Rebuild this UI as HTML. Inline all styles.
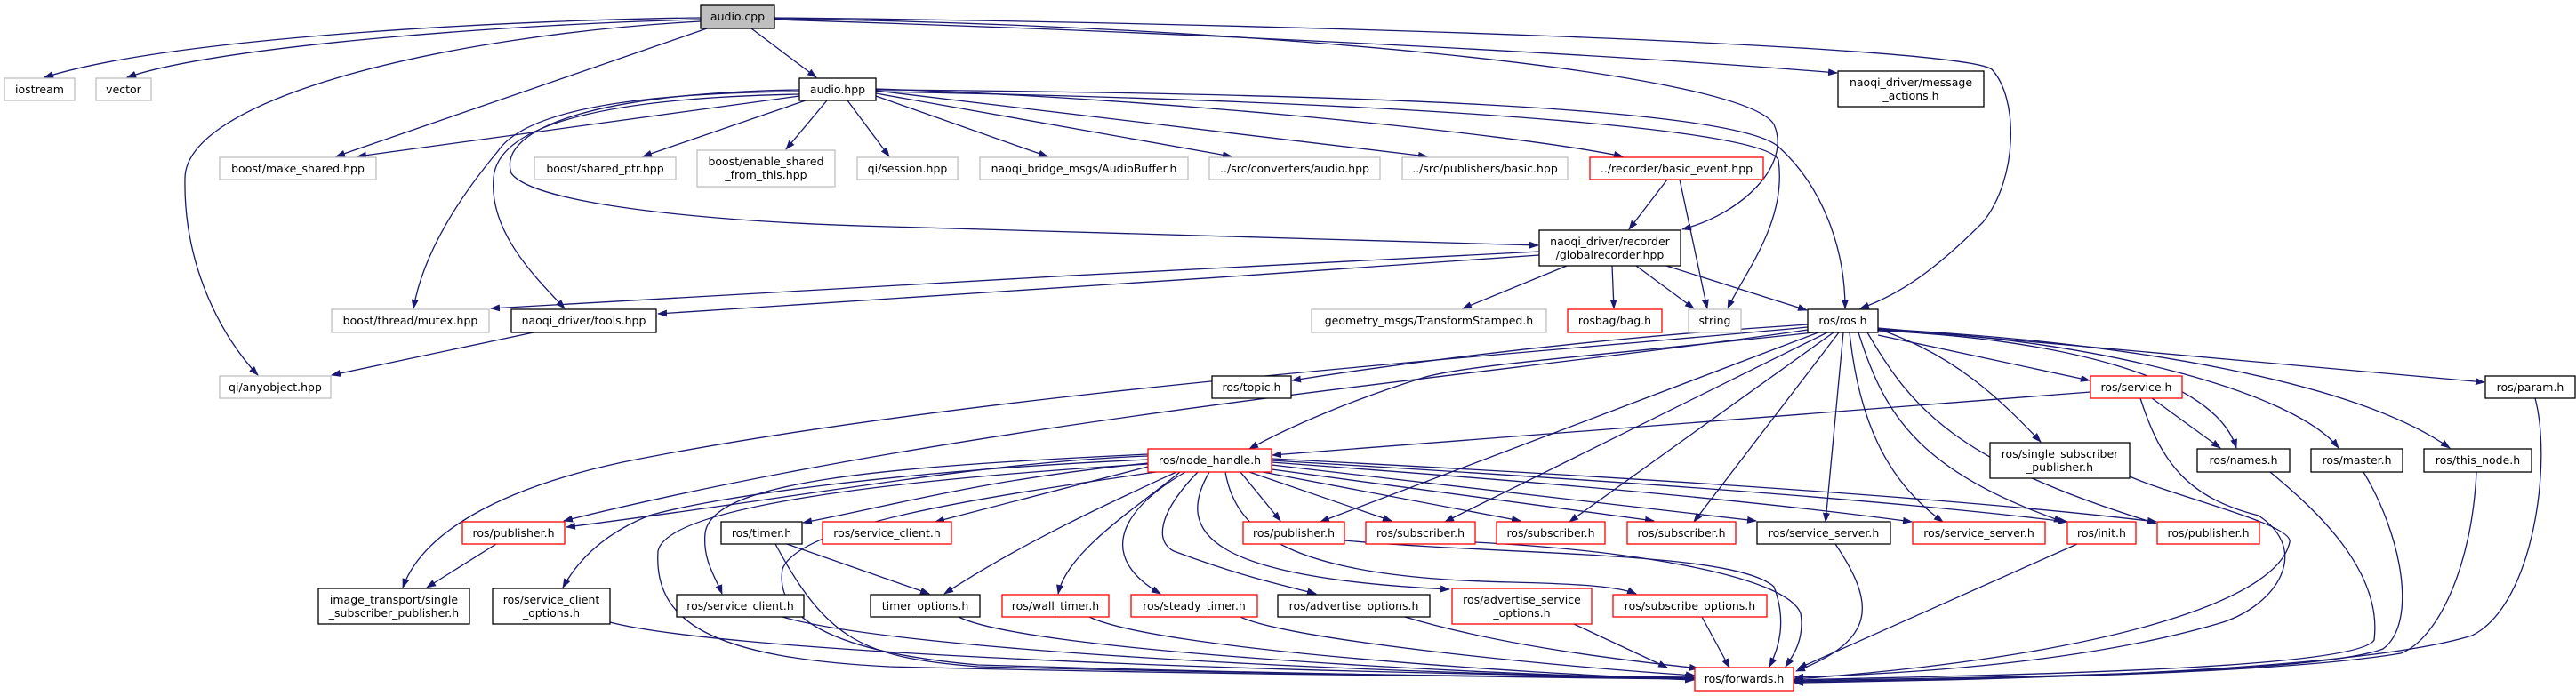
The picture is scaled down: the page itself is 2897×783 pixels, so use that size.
<!DOCTYPE html>
<html><head><meta charset="utf-8"><style>
html,body{margin:0;padding:0;background:#fff;}
svg{display:block;}
text{font-family:"DejaVu Sans","Liberation Sans",sans-serif;font-size:12.5px;fill:#000;text-anchor:middle;}
.e{fill:none;stroke:#191970;stroke-width:1.3;marker-end:url(#a);}
.g{fill:#fff;stroke:#bfbfbf;stroke-width:1.3;}
.b{fill:#fff;stroke:#000;stroke-width:1.3;}
.r{fill:#fff;stroke:#ff0000;stroke-width:1.3;}
</style></head><body>
<svg width="2897" height="783" viewBox="0 0 2897 783" xmlns="http://www.w3.org/2000/svg">
<defs><marker id="a" markerUnits="userSpaceOnUse" markerWidth="11" markerHeight="8" refX="10" refY="4" orient="auto"><path d="M0,0 L11,4 L0,8 z" fill="#191970"/></marker></defs>
<g>
<path class="e" d="M788,20 C600,22 200,40 50,87"/>
<path class="e" d="M788,22 C600,26 250,50 143,87"/>
<path class="e" d="M788,24 C500,40 210,110 208,200 C206,300 250,380 290,422"/>
<path class="e" d="M795,32 L378,176"/>
<path class="e" d="M845,32 L918,87"/>
<path class="e" d="M871,22 C1300,35 1800,60 2066,82"/>
<path class="e" d="M871,20 C1400,25 2200,50 2240,78 C2270,110 2270,200 2230,250 C2180,300 2140,330 2092,347"/>
<path class="e" d="M871,21 C1400,28 1960,80 1995,140 C2015,185 1960,240 1892,258"/>
<path class="e" d="M899,108 L402,176"/>
<path class="e" d="M906,113 L723,176"/>
<path class="e" d="M930,113 L884,168"/>
<path class="e" d="M953,113 L1000,176"/>
<path class="e" d="M985,108 L1178,176"/>
<path class="e" d="M985,105 L1385,176"/>
<path class="e" d="M985,102 L1605,176"/>
<path class="e" d="M985,100 C1300,110 1700,150 1825,176"/>
<path class="e" d="M899,103 C650,105 580,140 560,170 C510,230 475,290 465,347"/>
<path class="e" d="M899,106 C680,110 560,140 555,200 C550,260 600,310 635,347"/>
<path class="e" d="M899,101 C650,105 560,150 575,195 C600,230 800,250 1000,255 C1300,262 1600,272 1730,276"/>
<path class="e" d="M985,101 C1500,105 1950,120 2000,165 C2050,210 2075,280 2075,347"/>
<path class="e" d="M985,103 C1500,112 1985,140 2000,180 C2010,250 1960,310 1943,347"/>
<path class="e" d="M1875,202 L1832,258"/>
<path class="e" d="M1889,202 L1920,347"/>
<path class="e" d="M1731,283 C1400,300 800,330 552,347"/>
<path class="e" d="M1731,287 C1400,310 900,345 740,353"/>
<path class="e" d="M1762,299 L1645,347"/>
<path class="e" d="M1813,299 L1815,347"/>
<path class="e" d="M1840,299 L1905,347"/>
<path class="e" d="M1874,299 L2032,349"/>
<path class="e" d="M600,374 L373,422"/>
<path class="e" d="M2033,368 C1700,400 1100,440 700,520 C560,550 475,600 453,661"/>
<path class="e" d="M2033,371 C1700,420 1100,470 634,586"/>
<path class="e" d="M2033,365 C1800,380 1600,405 1453,428"/>
<path class="e" d="M2040,374 C1800,400 1650,410 1600,425 C1520,450 1450,480 1405,505"/>
<path class="e" d="M2045,374 L1485,587"/>
<path class="e" d="M2055,374 L1625,587"/>
<path class="e" d="M2062,374 L1765,587"/>
<path class="e" d="M2068,374 L1905,587"/>
<path class="e" d="M2073,374 L2053,587"/>
<path class="e" d="M2080,374 C2090,470 2120,540 2185,587"/>
<path class="e" d="M2090,374 C2120,470 2160,530 2320,587"/>
<path class="e" d="M2100,374 C2150,460 2200,520 2425,589"/>
<path class="e" d="M2112,370 C2200,400 2250,450 2295,497"/>
<path class="e" d="M2112,377 L2350,428"/>
<path class="e" d="M2112,372 C2300,380 2490,420 2515,504"/>
<path class="e" d="M2112,371 C2350,380 2580,440 2630,504"/>
<path class="e" d="M2112,370 C2400,385 2650,430 2755,504"/>
<path class="e" d="M2112,369 L2794,430"/>
<path class="e" d="M2351,441 L1431,512"/>
<path class="e" d="M2420,448 L2497,504"/>
<path class="e" d="M2407,448 C2430,520 2460,560 2540,580 C2600,620 2560,680 2500,700 C2350,745 2150,758 2018,762"/>
<path class="e" d="M2395,536 C2450,560 2580,590 2575,610 C2560,680 2350,740 2018,764"/>
<path class="e" d="M2553,531 C2600,570 2680,640 2670,720 C2650,755 2200,760 2018,765"/>
<path class="e" d="M2658,531 C2700,600 2720,700 2680,730 C2600,760 2200,762 2018,766"/>
<path class="e" d="M2785,531 C2780,640 2740,720 2700,735 C2550,760 2200,764 2018,767"/>
<path class="e" d="M2851,448 C2870,520 2850,680 2780,715 C2650,755 2250,765 2018,768"/>
<path class="e" d="M2336,612 L2022,752"/>
<path class="e" d="M2064,612 C2110,680 2110,720 2020,755"/>
<path class="e" d="M1512,608 C1700,625 1950,620 1995,660 C2010,700 2000,730 1990,750"/>
<path class="e" d="M1659,610 C1850,620 2010,650 2025,690 C2030,720 2015,740 2008,750"/>
<path class="e" d="M1291,513 C1100,520 900,560 637,593"/>
<path class="e" d="M1291,517 C1000,530 800,560 730,580 C680,600 650,630 633,661"/>
<path class="e" d="M1291,521 C1100,540 1000,570 903,588"/>
<path class="e" d="M1291,525 L1052,587"/>
<path class="e" d="M1291,511 C1000,525 800,540 793,600 C790,630 805,650 812,668"/>
<path class="e" d="M1323,531 C1260,560 1150,610 1062,668"/>
<path class="e" d="M1327,531 C1280,570 1200,620 1190,668"/>
<path class="e" d="M1333,531 C1250,580 1240,630 1305,668"/>
<path class="e" d="M1347,531 C1300,580 1300,610 1320,620 C1400,650 1450,660 1480,668"/>
<path class="e" d="M1360,531 C1320,600 1360,650 1630,663"/>
<path class="e" d="M1378,531 C1390,600 1450,650 1700,655 C1780,657 1820,660 1840,668"/>
<path class="e" d="M1395,531 L1440,586"/>
<path class="e" d="M1405,531 L1565,586"/>
<path class="e" d="M1420,531 L1710,586"/>
<path class="e" d="M1430,528 L1860,586"/>
<path class="e" d="M1430,523 L1975,586"/>
<path class="e" d="M1430,520 C1700,540 1950,560 2150,587"/>
<path class="e" d="M1430,518 C1800,540 2100,560 2325,587"/>
<path class="e" d="M1430,516 C1800,535 2200,560 2425,587"/>
<path class="e" d="M1291,522 C1000,540 750,570 740,620 C735,700 800,740 1000,750 C1400,760 1800,762 1905,762"/>
<path class="e" d="M1300,531 C1100,560 900,590 880,640 C870,700 950,735 1100,748 C1500,760 1800,763 1905,764"/>
<path class="e" d="M885,612 L1045,668"/>
<path class="e" d="M872,612 C930,720 970,740 1100,750 C1500,760 1800,762 1905,763"/>
<path class="e" d="M686,700 C800,730 1300,755 1905,762"/>
<path class="e" d="M880,694 C1000,730 1500,757 1905,763"/>
<path class="e" d="M1078,694 C1150,730 1600,757 1905,764"/>
<path class="e" d="M1225,694 C1300,730 1700,757 1905,765"/>
<path class="e" d="M1395,694 C1450,720 1750,750 1906,760"/>
<path class="e" d="M1580,694 C1700,730 1850,745 1910,752"/>
<path class="e" d="M1770,702 L1875,751"/>
<path class="e" d="M1914,694 L1945,751"/>
<path class="e" d="M558,612 L480,661"/>
</g>
<g>
<rect x="788" y="6" width="83" height="26" fill="#bfbfbf" stroke="#000" stroke-width="1.3"/><text x="829.5" y="23">audio.cpp</text>
<rect class="g" x="5" y="88" width="79" height="25"/><text x="44.5" y="105">iostream</text>
<rect class="g" x="108" y="88" width="62" height="25"/><text x="139" y="105">vector</text>
<rect class="b" x="899" y="88" width="86" height="25"/><text x="942" y="105">audio.hpp</text>
<rect class="b" x="2067" y="80" width="164" height="40"/><text x="2149" y="97">naoqi_driver/message</text><text x="2149" y="112">_actions.h</text>
<rect class="g" x="247" y="177" width="176" height="25"/><text x="335" y="194">boost/make_shared.hpp</text>
<rect class="g" x="601" y="177" width="159" height="25"/><text x="680.5" y="194">boost/shared_ptr.hpp</text>
<rect class="g" x="784" y="169" width="155" height="41"/><text x="861.5" y="186">boost/enable_shared</text><text x="861.5" y="201">_from_this.hpp</text>
<rect class="g" x="964" y="177" width="113" height="25"/><text x="1020.5" y="194">qi/session.hpp</text>
<rect class="g" x="1102" y="177" width="234" height="25"/><text x="1219" y="194">naoqi_bridge_msgs/AudioBuffer.h</text>
<rect class="g" x="1360" y="177" width="192" height="25"/><text x="1456" y="194">../src/converters/audio.hpp</text>
<rect class="g" x="1577" y="177" width="186" height="25"/><text x="1670" y="194">../src/publishers/basic.hpp</text>
<rect class="r" x="1788" y="177" width="195" height="25"/><text x="1885.5" y="194">../recorder/basic_event.hpp</text>
<rect class="b" x="1731" y="259" width="159" height="40"/><text x="1810.5" y="276">naoqi_driver/recorder</text><text x="1810.5" y="291">/globalrecorder.hpp</text>
<rect class="g" x="373" y="348" width="177" height="26"/><text x="461.5" y="365">boost/thread/mutex.hpp</text>
<rect class="b" x="575" y="348" width="163" height="26"/><text x="656.5" y="365">naoqi_driver/tools.hpp</text>
<rect class="g" x="1475" y="348" width="264" height="26"/><text x="1607" y="365">geometry_msgs/TransformStamped.h</text>
<rect class="r" x="1763" y="348" width="106" height="26"/><text x="1816" y="365">rosbag/bag.h</text>
<rect class="g" x="1899" y="348" width="59" height="26"/><text x="1928.5" y="365">string</text>
<rect class="b" x="2033" y="348" width="79" height="26"/><text x="2072.5" y="365">ros/ros.h</text>
<rect class="g" x="247" y="423" width="125" height="25"/><text x="309.5" y="440">qi/anyobject.hpp</text>
<rect class="b" x="1363" y="423" width="89" height="25"/><text x="1407.5" y="440">ros/topic.h</text>
<rect class="r" x="2351" y="423" width="103" height="25"/><text x="2402.5" y="440">ros/service.h</text>
<rect class="b" x="2795" y="423" width="101" height="25"/><text x="2845.5" y="440">ros/param.h</text>
<rect class="r" x="1291" y="505" width="139" height="26"/><text x="1360.5" y="522">ros/node_handle.h</text>
<rect class="b" x="2238" y="498" width="157" height="40"/><text x="2316.5" y="515">ros/single_subscriber</text><text x="2316.5" y="530">_publisher.h</text>
<rect class="b" x="2471" y="505" width="104" height="26"/><text x="2523" y="522">ros/names.h</text>
<rect class="b" x="2599" y="505" width="103" height="26"/><text x="2650.5" y="522">ros/master.h</text>
<rect class="b" x="2726" y="505" width="121" height="26"/><text x="2786.5" y="522">ros/this_node.h</text>
<rect class="r" x="520" y="587" width="115" height="25"/><text x="577.5" y="604">ros/publisher.h</text>
<rect class="b" x="811" y="587" width="91" height="25"/><text x="856.5" y="604">ros/timer.h</text>
<rect class="r" x="925" y="587" width="145" height="25"/><text x="997.5" y="604">ros/service_client.h</text>
<rect class="r" x="1398" y="587" width="114" height="25"/><text x="1455" y="604">ros/publisher.h</text>
<rect class="r" x="1536" y="587" width="123" height="25"/><text x="1597.5" y="604">ros/subscriber.h</text>
<rect class="r" x="1683" y="587" width="122" height="25"/><text x="1744" y="604">ros/subscriber.h</text>
<rect class="r" x="1830" y="587" width="122" height="25"/><text x="1891" y="604">ros/subscriber.h</text>
<rect class="b" x="1976" y="587" width="150" height="25"/><text x="2051" y="604">ros/service_server.h</text>
<rect class="r" x="2151" y="587" width="149" height="25"/><text x="2225.5" y="604">ros/service_server.h</text>
<rect class="r" x="2325" y="587" width="77" height="25"/><text x="2363.5" y="604">ros/init.h</text>
<rect class="r" x="2426" y="587" width="115" height="25"/><text x="2483.5" y="604">ros/publisher.h</text>
<rect class="b" x="358" y="662" width="170" height="40"/><text x="443" y="679">image_transport/single</text><text x="443" y="694">_subscriber_publisher.h</text>
<rect class="b" x="554" y="662" width="132" height="40"/><text x="620" y="679">ros/service_client</text><text x="620" y="694">_options.h</text>
<rect class="b" x="761" y="669" width="143" height="25"/><text x="832.5" y="686">ros/service_client.h</text>
<rect class="b" x="979" y="669" width="123" height="25"/><text x="1040.5" y="686">timer_options.h</text>
<rect class="r" x="1127" y="669" width="120" height="25"/><text x="1187" y="686">ros/wall_timer.h</text>
<rect class="r" x="1272" y="669" width="142" height="25"/><text x="1343" y="686">ros/steady_timer.h</text>
<rect class="b" x="1437" y="669" width="171" height="25"/><text x="1522.5" y="686">ros/advertise_options.h</text>
<rect class="r" x="1633" y="662" width="157" height="40"/><text x="1711.5" y="679">ros/advertise_service</text><text x="1711.5" y="694">_options.h</text>
<rect class="r" x="1814" y="669" width="173" height="25"/><text x="1900.5" y="686">ros/subscribe_options.h</text>
<rect class="r" x="1906" y="751" width="111" height="26"/><text x="1961.5" y="768">ros/forwards.h</text>
</g>
</svg>
</body></html>
